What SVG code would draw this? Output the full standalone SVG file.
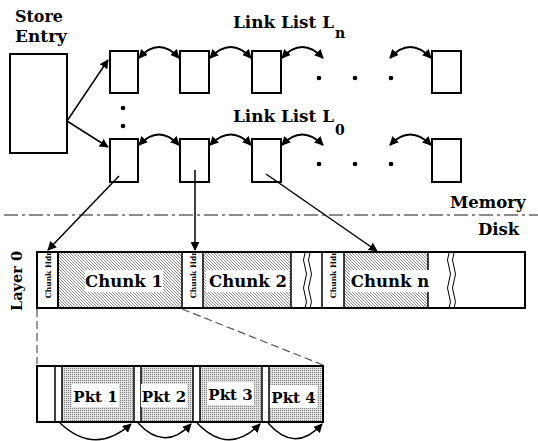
<svg xmlns="http://www.w3.org/2000/svg" width="538" height="441" viewBox="0 0 538 441">
<style>
.t{font-family:"DejaVu Serif","Liberation Serif",serif;font-weight:bold;fill:#000}
.big{font-size:16.5px}
.box{fill:#fff;stroke:#000;stroke-width:2}
.ln{fill:none;stroke:#000;stroke-width:1.5}
.arc{fill:none;stroke:#000;stroke-width:2;marker-start:url(#ah);marker-end:url(#ah)}
.dash{fill:none;stroke:#555;stroke-width:1.2;stroke-dasharray:8,4}
.wave{fill:none;stroke:#000;stroke-width:1}
</style>
<defs>
<marker id="ah" viewBox="0 0 10 10" refX="9" refY="5" markerWidth="9" markerHeight="9" markerUnits="userSpaceOnUse" orient="auto-start-reverse"><path d="M0,0 L10,5 L0,10 z" fill="#000"/></marker>
<pattern id="hatch" patternUnits="userSpaceOnUse" width="3" height="3"><rect width="3" height="3" fill="#fff"/><path d="M-1,-1 L4,4 M-1,2 L1,4 M2,-1 L4,1" stroke="#666" stroke-width="0.8"/></pattern>
<pattern id="dots" patternUnits="userSpaceOnUse" width="2" height="2"><rect width="2" height="2" fill="#e0e0e0"/><rect width="1" height="1" fill="#808080"/></pattern>
</defs>
<g id="store-entry">
<rect class="box" x="10" y="54" width="57" height="99"/>
<text class="t" font-size="17.5" x="15" y="22" textLength="48" lengthAdjust="spacingAndGlyphs">Store</text>
<text class="t" font-size="17.5" x="15" y="42" textLength="52" lengthAdjust="spacingAndGlyphs">Entry</text>
</g>
<g id="list-n">
<text class="t" font-size="17" x="233" y="28" textLength="101" lengthAdjust="spacingAndGlyphs">Link List L</text>
<text class="t" x="335" y="38" font-size="14">n</text>
<rect class="box" x="110" y="51" width="28" height="42"/>
<rect class="box" x="180" y="51" width="29" height="42"/>
<rect class="box" x="252" y="51" width="29" height="42"/>
<rect class="box" x="432" y="51" width="29" height="42"/>
<circle cx="319" cy="78" r="2.3"/><circle cx="355" cy="78" r="2.3"/><circle cx="391" cy="78" r="2.3"/>
</g>
<g id="list-0">
<text class="t" font-size="17" x="233" y="122" textLength="101" lengthAdjust="spacingAndGlyphs">Link List L</text>
<text class="t" x="335" y="135" font-size="14">0</text>
<rect class="box" x="110" y="139" width="28" height="43"/>
<rect class="box" x="180" y="139" width="29" height="43"/>
<rect class="box" x="252" y="139" width="29" height="43"/>
<rect class="box" x="432" y="139" width="29" height="43"/>
<circle cx="319" cy="164" r="2.3"/><circle cx="355" cy="164" r="2.3"/><circle cx="391" cy="164" r="2.3"/>
<circle cx="123" cy="108" r="2.3"/><circle cx="123" cy="126" r="2.3"/>
</g>
<g id="boundary">
<line x1="4" y1="215" x2="538" y2="215" stroke="#666" stroke-width="1.5" stroke-dasharray="14,4,3,4"/>
<text class="t big" x="450" y="208">Memory</text>
<text class="t big" x="478" y="235">Disk</text>
</g>
<g id="layer0">
<text class="t" font-size="14.5" transform="translate(22,281) rotate(-90)" text-anchor="middle">Layer 0</text>
<rect x="37" y="252" width="488" height="56" fill="#fff" stroke="#000" stroke-width="2"/>
<rect x="58" y="252" width="124" height="56" fill="url(#hatch)"/>
<rect x="203" y="252" width="88" height="56" fill="url(#hatch)"/>
<rect x="344" y="252" width="84" height="56" fill="url(#hatch)"/>
<path class="ln" d="M58,252 V308 M182,252 V308 M203,252 V308 M291,252 V308 M322,252 V308 M344,252 V308 M428,252 V308"/>
<path class="wave" d="M305,253 q-3,7 0,14 q3,7 0,14 q-3,7 0,14 q3,7 0,13 M310,253 q-3,7 0,14 q3,7 0,14 q-3,7 0,14 q3,7 0,13"/>
<path class="wave" d="M449,253 q-3,7 0,14 q3,7 0,14 q-3,7 0,14 q3,7 0,13 M454,253 q-3,7 0,14 q3,7 0,14 q-3,7 0,14 q3,7 0,13"/>
<rect x="58" y="252" width="467" height="56" fill="none" stroke="#000" stroke-width="2"/>
<rect x="85" y="270" width="78" height="22" fill="#fff"/>
<rect x="206" y="270" width="83" height="22" fill="#fff"/>
<rect x="350" y="270" width="80" height="22" fill="#fff"/>
<text class="t" font-size="16.5" x="124" y="287" text-anchor="middle">Chunk 1</text>
<text class="t" font-size="16.5" x="248" y="287" text-anchor="middle">Chunk 2</text>
<text class="t" font-size="16.5" x="390" y="287" text-anchor="middle">Chunk n</text>
<text class="t" font-size="7.5" transform="translate(50.5,275) rotate(-90)" text-anchor="middle">Chunk Hdr</text>
<text class="t" font-size="7.5" transform="translate(195.5,275) rotate(-90)" text-anchor="middle">Chunk Hdr</text>
<text class="t" font-size="7.5" transform="translate(336,275) rotate(-90)" text-anchor="middle">Chunk Hdr</text>
</g>
<g id="chunk-detail">
<rect x="37" y="366" width="286" height="56" fill="#fff" stroke="#000" stroke-width="2"/>
<rect x="62" y="366" width="72" height="56" fill="url(#dots)"/>
<rect x="141" y="366" width="52" height="56" fill="url(#dots)"/>
<rect x="200" y="366" width="62" height="56" fill="url(#dots)"/>
<rect x="269" y="366" width="54" height="56" fill="url(#dots)"/>
<path class="ln" d="M55,366 V422 M62,366 V422 M134,366 V422 M141,366 V422 M193,366 V422 M200,366 V422 M262,366 V422 M269,366 V422"/>
<rect x="37" y="366" width="286" height="56" fill="none" stroke="#000" stroke-width="2"/>
<rect x="72" y="384" width="47" height="23" fill="#fff"/>
<rect x="141" y="384" width="46" height="23" fill="#fff"/>
<rect x="207" y="382" width="47" height="23" fill="#fff"/>
<rect x="270" y="385" width="47" height="23" fill="#fff"/>
<text class="t" font-size="15" x="95.5" y="402" text-anchor="middle">Pkt 1</text>
<text class="t" font-size="15" x="164" y="402" text-anchor="middle">Pkt 2</text>
<text class="t" font-size="15" x="230.5" y="400" text-anchor="middle">Pkt 3</text>
<text class="t" font-size="15" x="293.5" y="403" text-anchor="middle">Pkt 4</text>
</g>
<g id="connectors">
<line class="ln" x1="67" y1="121" x2="108" y2="60" marker-end="url(#ah)"/>
<line class="ln" x1="67" y1="121" x2="108" y2="147" marker-end="url(#ah)"/>
<path class="arc" d="M139,58 Q159,36 179,58"/>
<path class="arc" d="M210,58 Q231,36 251,58"/>
<path class="arc" d="M282,58 Q302,36 323,58"/>
<path class="arc" d="M390,58 Q410,36 431,58"/>
<path class="arc" d="M139,145 Q159,124 179,145"/>
<path class="arc" d="M210,145 Q231,124 251,145"/>
<path class="arc" d="M282,145 Q302,124 323,145"/>
<path class="arc" d="M390,145 Q410,124 431,145"/>
<line class="ln" x1="119" y1="176" x2="48" y2="250" marker-end="url(#ah)"/>
<line class="ln" x1="195" y1="170" x2="195" y2="250" marker-end="url(#ah)"/>
<line class="ln" x1="266" y1="174" x2="377" y2="251" marker-end="url(#ah)"/>
<line class="dash" x1="37" y1="309" x2="37" y2="364"/>
<line class="dash" x1="182" y1="309" x2="323" y2="365"/>
<path class="ln" stroke-width="1" d="M60,423 Q95,456 131,424" marker-end="url(#ah)"/>
<path class="ln" stroke-width="1" d="M138,423 Q165,452 191,424" marker-end="url(#ah)"/>
<path class="ln" stroke-width="1" d="M197,423 Q229,456 260,424" marker-end="url(#ah)"/>
<path class="ln" stroke-width="1" d="M268,423 Q295,454 322,424" marker-end="url(#ah)"/>
</g>
</svg>
